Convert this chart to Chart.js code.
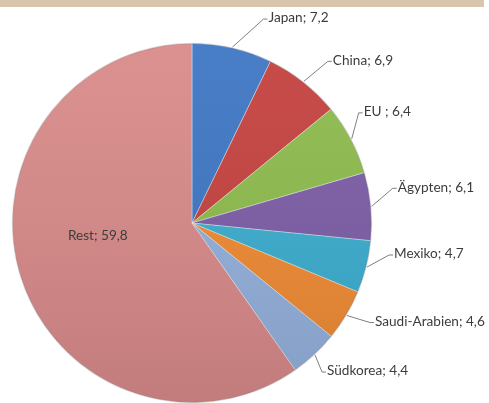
<!DOCTYPE html>
<html>
<head>
<meta charset="utf-8">
<script src="https://cdn.jsdelivr.net/npm/chart.js@4"></script>
<style>
  html, body { margin: 0; padding: 0; background: #fff; }
  #wrap { position: relative; width: 489px; height: 403px; overflow: hidden; }
  #band { position: absolute; left: 0; top: 0; width: 484px; height: 7px; background: #d9c4ad; }
  canvas { position: absolute; left: 0; top: 0; }
</style>
</head>
<body>
<div id="wrap">
  <canvas id="chart" width="489" height="403"></canvas>
  <div id="band"></div>
</div>
<script>
const labels = ['Japan', 'China', 'EU ', 'Ägypten', 'Mexiko', 'Saudi-Arabien', 'Südkorea', 'Rest'];
const values = [7.2, 6.9, 6.4, 6.1, 4.7, 4.6, 4.4, 59.8];
const colors = ['#3d76c4', '#c4413e', '#8dbb4c', '#7c5da6', '#3badcf', '#ef8a33', '#93b0dc', '#d88a89'];

// leader line elbows, relative to the point on the slice edge
const leaders = [[31, -28], [24, -20], [7, -26], [21, -18], [22, -12], [23, 7], [7, 17], null];

const fmt = v => v.toString().replace('.', ',');

const labelPlugin = {
    id: 'leaderLabels',
    afterDatasetsDraw(chart) {
        const ctx = chart.ctx;
        const arcs = chart.getDatasetMeta(0).data;
        ctx.save();
        // soft top-to-bottom shading over the whole pie
        const a0 = arcs[0];
        const g = ctx.createLinearGradient(0, a0.y - a0.outerRadius, 0, a0.y + a0.outerRadius);
        g.addColorStop(0, 'rgba(255,255,255,0.06)');
        g.addColorStop(1, 'rgba(0,0,0,0.10)');
        ctx.fillStyle = g;
        ctx.beginPath();
        ctx.arc(a0.x, a0.y, a0.outerRadius, 0, Math.PI * 2);
        ctx.fill();
        ctx.strokeStyle = 'rgba(0,0,0,0.12)';
        ctx.lineWidth = 1.5;
        ctx.stroke();

        ctx.font = '13.6px Lato, "Open Sans", sans-serif';
        ctx.fillStyle = '#3c3c3c';
        ctx.strokeStyle = '#7f7f7f';
        ctx.lineWidth = 1;
        ctx.textBaseline = 'middle';
        arcs.forEach((arc, i) => {
            const p = arc.getProps(['x', 'y', 'startAngle', 'endAngle', 'outerRadius'], true);
            const mid = (p.startAngle + p.endAngle) / 2;
            const text = labels[i] + '; ' + fmt(values[i]);
            if (!leaders[i]) {
                // big slice: label inside
                ctx.textAlign = 'center';
                ctx.fillText(text, p.x + Math.cos(mid) * p.outerRadius * 0.55, p.y + 13);
                return;
            }
            const sx = p.x + Math.cos(mid) * (p.outerRadius + 1);
            const sy = p.y + Math.sin(mid) * (p.outerRadius + 1);
            const ex = sx + leaders[i][0], ey = sy + leaders[i][1];
            ctx.beginPath();
            ctx.moveTo(sx, sy);
            ctx.lineTo(ex, ey);
            ctx.lineTo(ex + 4, ey);
            ctx.stroke();
            ctx.textAlign = 'left';
            ctx.fillText(text, ex + 5, ey - 1);
        });
        ctx.restore();
    }
};

new Chart(document.getElementById('chart'), {
    type: 'pie',
    data: {
        labels: labels,
        datasets: [{
            data: values,
            backgroundColor: colors,
            borderColor: 'rgba(255,255,255,0.35)',
            borderWidth: 1
        }]
    },
    options: {
        responsive: false,
        animation: false,
        layout: { padding: { top: 43, bottom: 0, left: 12, right: 117 } },
        plugins: {
            legend: { display: false },
            tooltip: { enabled: false }
        }
    },
    plugins: [labelPlugin]
});
</script>
</body>
</html>
